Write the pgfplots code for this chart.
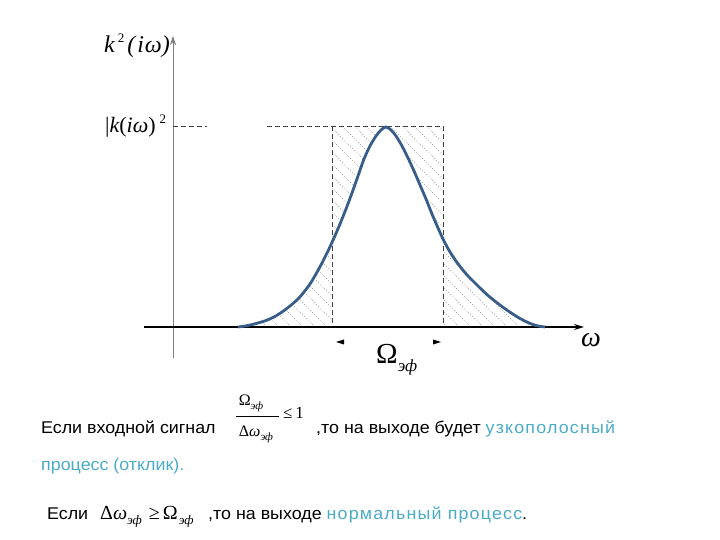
\documentclass[border=0pt]{standalone}
\usepackage{pgfplots}
\pgfplotsset{compat=1.18}
\usepgfplotslibrary{fillbetween}
\usetikzlibrary{patterns,arrows.meta}
\usepackage{fontspec}
\setmainfont[FakeStretch=1.05]{Liberation Sans}
\newfontfamily\tnr{Liberation Serif}
\definecolor{curvecol}{HTML}{385D8A}
\definecolor{teal}{HTML}{4BACC6}
\newcommand{\fs}[1]{\fontsize{#1}{#1}\selectfont}
\newcommand{\ef}{{\fs{11}\itshape эф}}
\newcommand{\hl}[1]{\textcolor{teal}{\addfontfeature{LetterSpace=7}#1}}
\pgfdeclarepatternformonly{dothatch}{\pgfqpoint{-1pt}{-1pt}}{\pgfqpoint{13pt}{13pt}}{\pgfqpoint{12pt}{12pt}}{
  \pgfsetlinewidth{0.6pt}
  \pgfsetdash{{1.2pt}{1.8pt}}{0pt}
  \pgfpathmoveto{\pgfqpoint{0pt}{12pt}}
  \pgfpathlineto{\pgfqpoint{12pt}{0pt}}
  \pgfusepath{stroke}}
\begin{document}
\begin{tikzpicture}
\begin{axis}[scale only axis, width=720pt, height=540pt,
  xmin=0, xmax=720, ymin=0, ymax=540, y dir=reverse,
  hide axis, clip=false]
% baseline and top of rectangle (used for hatching)
\addplot[draw=none, name path=base] coordinates {(230,326) (560,326)};
\addplot[draw=none, name path=top] coordinates {(320,126) (460,126)};
% response curve (path for hatching)
\addplot[draw=none, name path=curve, smooth] coordinates {
(238,327) (248,325.5) (258,323) (266,320.5) (274,317) (282,312) (290,306) (298,299)
(304,292) (310,284) (316,274) (322,263) (328,251) (334,238) (340,224) (346,209)
(352,193) (358,176) (364,159) (370,146) (376,136) (381,130) (386,127)
(391,130) (396,136) (402,146) (408,158) (414,171) (420,185) (426,199) (432,214)
(438,228) (444,241) (450,252) (456,261) (462,269) (468,276) (474,282) (480,288)
(488,295.5) (496,302) (504,308) (512,313.5) (520,318.5) (528,322.5) (536,325.5) (545,327)};
% hatching
\addplot[draw=none, pattern=dothatch, pattern color=black!35]
  fill between[of=curve and base, soft clip={domain=238:332}];
\addplot[draw=none, pattern=dothatch, pattern color=black!35]
  fill between[of=curve and base, soft clip={domain=443:545}];
\addplot[draw=none, pattern=dothatch, pattern color=black!35]
  fill between[of=curve and top, soft clip={domain=332:443}];
% axes
\draw[black!50, line width=0.8pt, -{Stealth[length=9pt,width=6pt]}] (axis cs:173,358) -- (axis cs:173,36);
\draw[black, line width=1.2pt, -{Stealth[length=10pt,width=6pt]}] (axis cs:144,327) -- (axis cs:584,327);
% dashed rectangle
\draw[black!75, line width=0.8pt, dash pattern=on 5pt off 3pt] (axis cs:173,126) -- (axis cs:207,126);
\draw[black!75, line width=0.8pt, dash pattern=on 5pt off 3pt] (axis cs:267,126) -- (axis cs:443,126);
\draw[black!75, line width=0.8pt, dash pattern=on 5pt off 3pt] (axis cs:332,126) -- (axis cs:332,326);
\draw[black!75, line width=0.8pt, dash pattern=on 5pt off 3pt] (axis cs:443,126) -- (axis cs:443,326);
% curve on top
\addplot[color=curvecol, line width=2.8pt, smooth] coordinates {
(238,327) (248,325.5) (258,323) (266,320.5) (274,317) (282,312) (290,306) (298,299)
(304,292) (310,284) (316,274) (322,263) (328,251) (334,238) (340,224) (346,209)
(352,193) (358,176) (364,159) (370,146) (376,136) (381,130) (386,127)
(391,130) (396,136) (402,146) (408,158) (414,171) (420,185) (426,199) (432,214)
(438,228) (444,241) (450,252) (456,261) (462,269) (468,276) (474,282) (480,288)
(488,295.5) (496,302) (504,308) (512,313.5) (520,318.5) (528,322.5) (536,325.5) (545,327)};
% small arrow heads below the rectangle
\fill[black] (axis cs:336,342) -- (axis cs:344,339.5) -- (axis cs:344,344.5) -- cycle;
\fill[black] (axis cs:441,342) -- (axis cs:433,339.5) -- (axis cs:433,344.5) -- cycle;
% labels
\node[anchor=base west, inner sep=0pt, font=\tnr\fs{24}] at (axis cs:104,53)
  {\itshape k\kern3pt\raisebox{0.42em}{\upshape\fs{13}2}\kern3pt(\kern2pt i\kern1pt ω)};
\node[anchor=base west, inner sep=0pt, font=\tnr\fs{22}] at (axis cs:105,133)
  {|\itshape k\upshape(\itshape iω\upshape)\kern4pt\raisebox{0.45em}{\fs{13}2}};
\node[anchor=base west, inner sep=0pt, font=\tnr\fs{29}] at (axis cs:376,364)
  {Ω\raisebox{-0.25em}{\fs{17}\itshape эф}};
\node[anchor=base west, inner sep=0pt, font=\tnr\fs{28}\itshape] at (axis cs:581,347) {ω};
% bottom text, line 1
\node[anchor=base west, inner sep=0pt, font=\fs{17}] at (axis cs:41,434) {Если входной сигнал};
\node[anchor=base, inner sep=0pt, font=\tnr\fs{16}] at (axis cs:251,406) {Ω\raisebox{-0.25em}{\ef}};
\draw[black, line width=0.6pt] (axis cs:236,416) -- (axis cs:279,416);
\node[anchor=base, inner sep=0pt, font=\tnr\fs{16}] at (axis cs:256,437) {Δ\itshape ω\upshape\raisebox{-0.25em}{\ef}};
\node[anchor=base west, inner sep=0pt, font=\tnr\fs{17}] at (axis cs:283,419) {≤\,1};
\node[anchor=base west, inner sep=0pt, font=\fs{17}] at (axis cs:316,434) {,то на выходе будет \hl{узкополосный}};
% line 2
\node[anchor=base west, inner sep=0pt, font=\fs{17}, text=teal] at (axis cs:41,471) {процесс (отклик).};
% line 3
\node[anchor=base west, inner sep=0pt, font=\fs{17}] at (axis cs:47,520) {Если};
\node[anchor=base west, inner sep=0pt, font=\tnr\fs{20}] at (axis cs:100,520)
  {Δ\itshape ω\upshape\raisebox{-0.25em}{\fs{13}\itshape эф}\kern7pt≥\kern3pt Ω\kern1pt\raisebox{-0.25em}{\fs{13}\itshape эф}};
\node[anchor=base west, inner sep=0pt, font=\fs{17}] at (axis cs:208,520) {,то на выходе \hl{нормальный процесс}.};
\end{axis}
\path (current axis.south west) rectangle (current axis.north east);
\end{tikzpicture}
\end{document}
